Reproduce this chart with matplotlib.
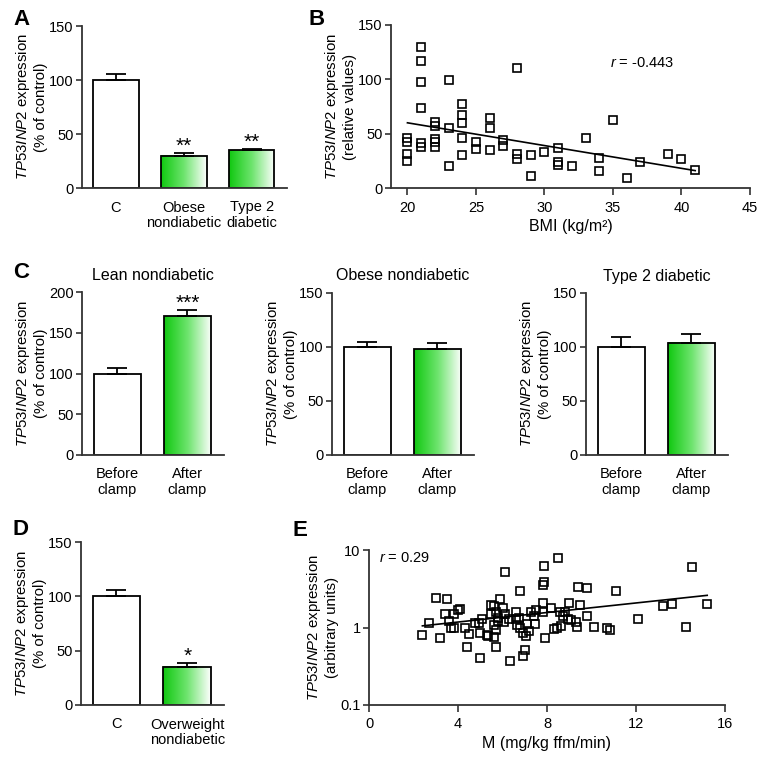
import numpy as np
import matplotlib.pyplot as plt
from matplotlib.colors import LinearSegmentedColormap

plt.rcParams['font.family'] = ['Liberation Sans', 'DejaVu Sans']
plt.rcParams['mathtext.fontset'] = 'custom'
plt.rcParams['mathtext.it'] = 'Liberation Sans:italic'
plt.rcParams['mathtext.rm'] = 'Liberation Sans'

# --- data ---
a_groups = ['C', 'Obese\nnondiabetic', 'Type 2\ndiabetic']
a_means = [100, 30, 35]
a_sem = [6, 2.5, 1.5]
a_stars = ['', '**', '**']

bmi = [20, 20, 20, 20, 21, 21, 21, 21, 21, 21, 22, 22, 22, 22, 22, 23, 23, 23,
       24, 24, 24, 24, 24, 25, 25, 26, 26, 26, 27, 27, 28, 28, 28, 29, 29, 30,
       31, 31, 31, 32, 33, 34, 34, 35, 36, 37, 39, 40, 41]
bmi_expr = [46, 42, 31, 25, 130, 117, 98, 74, 41, 38, 61, 57, 45, 42, 38, 99, 55, 20,
            77, 67, 60, 46, 30, 42, 36, 64, 55, 35, 44, 39, 110, 31, 27, 30, 11, 33,
            37, 24, 21, 20, 46, 28, 16, 63, 9, 24, 31, 27, 17]
bmi_fit_x = [20, 41]
bmi_fit_y = [60, 16]

clamp_titles = ['Lean nondiabetic', 'Obese nondiabetic', 'Type 2 diabetic']
clamp_groups = ['Before\nclamp', 'After\nclamp']
clamp_means = [[100, 170], [100, 98], [100, 104]]
clamp_sem = [[6.5, 8], [5, 6], [9, 8.5]]
clamp_stars = [['', '***'], ['', ''], ['', '']]
clamp_ymax = [200, 150, 150]

d_groups = ['C', 'Overweight\nnondiabetic']
d_means = [100, 35]
d_sem = [5.5, 4]
d_stars = ['', '*']

m_rate = [8.5, 7.85, 14.5, 6.1, 7.85, 7.8, 6.8, 9.4, 9.8, 11.1, 3.0, 3.5, 5.9,
          7.8, 9.0, 9.5, 13.2, 13.6, 15.2, 5.5, 5.6, 6.0, 4.1, 4.0, 3.4, 3.8,
          6.6, 7.5, 7.3, 7.8, 8.2, 8.6, 8.8, 5.7, 5.5, 6.1, 7.4, 9.8, 8.7, 3.6,
          2.7, 5.1, 5.8, 5.8, 6.05, 6.3, 6.6, 6.75, 8.95, 9.1, 9.3, 4.75, 4.95,
          3.7, 3.8, 4.3, 5.6, 6.65, 6.8, 7.1, 7.45, 8.3, 8.45, 8.65, 9.35, 10.1,
          10.7, 10.85, 12.1, 14.25, 2.4, 3.2, 4.5, 5.0, 5.3, 5.35, 5.6, 5.7, 6.9,
          7.05, 7.2, 7.9, 4.4, 5.7, 7.0, 6.9, 5.0, 6.35]
m_expr = [8.0, 6.3, 6.0, 5.2, 3.9, 3.5, 3.0, 3.3, 3.2, 3.0, 2.4, 2.35, 2.3,
          2.1, 2.1, 1.95, 1.9, 2.0, 2.0, 1.95, 1.9, 1.8, 1.75, 1.7, 1.5, 1.5,
          1.6, 1.7, 1.6, 1.6, 1.8, 1.6, 1.6, 1.6, 1.5, 1.5, 1.4, 1.4, 1.4, 1.2,
          1.14, 1.27, 1.33, 1.22, 1.18, 1.27, 1.29, 1.34, 1.29, 1.26, 1.18, 1.13, 1.14,
          1.0, 1.0, 0.99, 1.07, 1.07, 1.0, 1.1, 1.1, 0.96, 1.0, 1.04, 1.02, 1.02,
          1.0, 0.92, 1.29, 1.03, 0.79, 0.74, 0.83, 0.85, 0.79, 0.77, 0.76, 0.92, 0.85,
          0.78, 0.9, 0.73, 0.56, 0.56, 0.52, 0.43, 0.41, 0.37]
m_fit_x = [2.4, 15.2]
m_fit_y = [1.05, 2.6]

W, H = 764, 761
AX_COLOR = '#333333'
LABEL_SIZE = 10.8
green = LinearSegmentedColormap.from_list('grn', ['#10c810', '#6ee46e', '#ffffff'])
gradient = np.linspace(0, 1, 256).reshape(1, -1)
ital = r'$\mathit{TP53INP2}$ expression'


def add_axes(x0, y0, x1, y1):
    # pixel box (top-left origin) -> figure axes
    return fig.add_axes([x0 / W, 1 - y1 / H, (x1 - x0) / W, (y1 - y0) / H])


def style(ax):
    for s in ['top', 'right']:
        ax.spines[s].set_visible(False)
    for s in ['left', 'bottom']:
        ax.spines[s].set_linewidth(1.3)
        ax.spines[s].set_color(AX_COLOR)
    ax.tick_params(direction='out', length=4, width=1.2, color=AX_COLOR,
                   labelsize=10.5, pad=2)
    ax.tick_params(axis='x', length=5, pad=4)


def bar_panel(ax, labels, means, sems, stars, ymax, ylabel):
    x = np.arange(len(labels))
    width = 0.67
    for i in range(len(x)):
        if i > 0:
            ax.imshow(gradient, cmap=green, aspect='auto', zorder=1,
                      extent=[x[i] - width / 2, x[i] + width / 2, 0, means[i]])
        ax.bar(x[i], means[i], width, facecolor='white' if i == 0 else 'none',
               edgecolor='black', linewidth=1.3, zorder=2)
    ax.errorbar(x, means, yerr=[np.zeros(len(x)), sems], fmt='none', ecolor='black',
                elinewidth=1.3, capsize=7, capthick=1.3, zorder=3)
    for i in range(len(x)):
        if stars[i]:
            ax.annotate(stars[i], (x[i], means[i] + sems[i]), xytext=(0, -2),
                        textcoords='offset points', ha='center', va='bottom',
                        fontsize=15)
    ax.set_xlim(-0.5, len(x) - 0.48)
    ax.set_ylim(0, ymax)
    ax.set_yticks(np.arange(0, ymax + 1, 50))
    ax.set_xticks(x)
    ax.set_xticklabels(labels, fontsize=10.5, linespacing=1.15)
    ax.set_ylabel(ylabel, fontsize=LABEL_SIZE, labelpad=1, linespacing=1.15)
    style(ax)
    ax.tick_params(axis='x', length=0, pad=9)


fig = plt.figure(figsize=(W / 100, H / 100), dpi=100)

# A
axA = add_axes(82, 26, 287, 188)
bar_panel(axA, a_groups, a_means, a_sem, a_stars, 150, ital + '\n(% of control)')

# B
axB = add_axes(391, 25, 750, 188)
axB.plot(bmi, bmi_expr, 's', ms=6, mfc='none', mec='black', mew=1.2, zorder=3)
axB.plot(bmi_fit_x, bmi_fit_y, color='black', lw=1.2)
axB.set_xlim(18.8, 45)
axB.set_ylim(0, 150)
axB.set_xticks([20, 25, 30, 35, 40, 45])
axB.set_yticks([0, 50, 100, 150])
axB.set_xlabel('BMI (kg/m²)', fontsize=11.5, labelpad=3)
axB.set_ylabel(ital + '\n(relative values)', fontsize=LABEL_SIZE, labelpad=1,
               linespacing=1.15)
axB.text(34.8, 115, r'$\mathit{r}$ = -0.443', fontsize=10.5, va='center')
style(axB)

# C
c_boxes = [(82, 292, 224, 455), (332, 293, 474, 455), (586, 293, 728, 455)]
for k in range(3):
    ax = add_axes(*c_boxes[k])
    bar_panel(ax, clamp_groups, clamp_means[k], clamp_sem[k], clamp_stars[k],
              clamp_ymax[k], ital + '\n(% of control)')
    ax.set_title(clamp_titles[k], fontsize=11.5, pad=9)

# D
axD = add_axes(81, 542, 224, 705)
bar_panel(axD, d_groups, d_means, d_sem, d_stars, 150, ital + '\n(% of control)')

# E
axE = add_axes(369, 550, 725, 705)
axE.plot(m_rate, m_expr, 's', ms=6, mfc='none', mec='black', mew=1.2, zorder=3)
axE.plot(m_fit_x, m_fit_y, color='black', lw=1.2)
axE.set_yscale('log')
axE.set_xlim(0, 16)
axE.set_ylim(0.1, 10)
axE.set_xticks([0, 4, 8, 12, 16])
axE.set_yticks([0.1, 1, 10])
axE.set_yticklabels(['0.1', '1', '10'])
axE.minorticks_off()
axE.set_xlabel('M (mg/kg ffm/min)', fontsize=11.5, labelpad=3)
axE.set_ylabel(ital + '\n(arbitrary units)', fontsize=LABEL_SIZE, labelpad=1,
               linespacing=1.15)
axE.text(0.45, 7.8, r'$\mathit{r}$ = 0.29', fontsize=10.5, va='center')
style(axE)

# panel letters
for letter, px, py in [('A', 13, 25), ('B', 309, 25), ('C', 13, 278),
                       ('D', 13, 535), ('E', 293, 536)]:
    fig.text(px / W, 1 - py / H, letter, fontsize=16, fontweight='bold',
             va='baseline', ha='left')

fig.savefig('out.png', dpi=100)
